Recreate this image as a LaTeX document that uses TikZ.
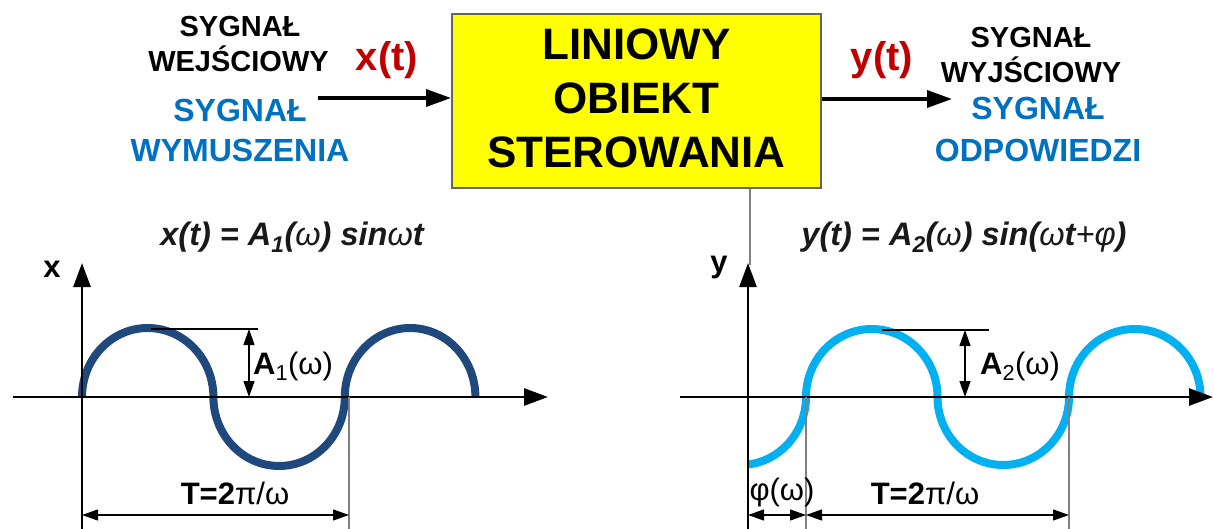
\documentclass[tikz,border=0pt]{standalone}
\usepackage{fontspec}
\setmainfont{Liberation Sans}
\usetikzlibrary{arrows.meta}
\definecolor{sigred}{RGB}{192,0,0}
\definecolor{sigblue}{RGB}{0,112,192}
\definecolor{wavedark}{RGB}{31,73,125}
\definecolor{wavelight}{RGB}{0,176,240}
\definecolor{boxyellow}{RGB}{255,255,0}
\definecolor{boxborder}{RGB}{100,100,100}
\definecolor{thingray}{RGB}{128,128,128}
\begin{document}
\begin{tikzpicture}[x=1pt,y=-1pt,
  axisline/.style={line width=2.7pt,-{Triangle[length=24pt,width=17pt]}},
  sigarrow/.style={line width=3.5pt,-{Triangle[length=25pt,width=17pt]}},
  dimline/.style={line width=1.2pt,{Triangle[length=16pt,width=11pt]}-{Triangle[length=16pt,width=11pt]}},
  guide/.style={line width=1.3pt,draw=thingray},
  ampline/.style={line width=1.2pt,draw=black},
  wave/.style={line width=8pt},
  lbl/.style={inner sep=0pt,anchor=base},
  blacklbl/.style={lbl,font=\fontsize{29}{35}\selectfont\bfseries,text=black},
  bluelbl/.style={lbl,font=\fontsize{32}{38}\selectfont\bfseries,text=sigblue},
  redlbl/.style={lbl,font=\fontsize{40}{48}\selectfont\bfseries,text=sigred},
  titlelbl/.style={lbl,font=\fontsize{32.5}{38}\selectfont\bfseries\itshape,text=black!90},
  plotlbl/.style={lbl,font=\fontsize{31}{37}\selectfont},
  boxstyle/.style={draw=boxborder,line width=2pt,fill=boxyellow,minimum width=369pt,minimum height=174pt,inner sep=0pt},
]
\useasboundingbox (0,0) rectangle (1214,529);

% block
\node[boxstyle] (box) at (636.5,101) {};
\node[inner sep=0pt,align=center,font=\fontsize{44}{54}\selectfont\bfseries] (boxtext) at (636.5,98.5) {LINIOWY\\OBIEKT\\STEROWANIA};

% input side
\node[blacklbl] (inA) at (240,37) {SYGNAŁ};
\node[blacklbl] (inB) at (238.5,72) {WEJŚCIOWY};
\node[bluelbl] (inC) at (240,122) {SYGNAŁ};
\node[bluelbl] (inD) at (240,162) {WYMUSZENIA};
\node[redlbl] (xt) at (387,71) {x(t)};
\coordinate (inStart) at (318,98);
\draw[sigarrow] (inStart) -- (inStart -| box.west);

% output side
\node[blacklbl] (outA) at (1031,48) {SYGNAŁ};
\node[blacklbl] (outB) at (1031,83) {WYJŚCIOWY};
\node[bluelbl] (outC) at (1038,120) {SYGNAŁ};
\node[bluelbl] (outD) at (1038,162) {ODPOWIEDZI};
\node[redlbl] (yt) at (882,71) {y(t)};
\coordinate (outEnd) at (952,99);
\draw[sigarrow] (outEnd -| box.east) -- (outEnd);

% thin line from block to right plot
\coordinate (gBot) at (750,265);
\draw[guide] (box.south -| gBot) -- (gBot);

% ===== left plot =====
\node[titlelbl] (titleL) at (292,245) {x(t) = A\textsubscript{1}({\mdseries ω}) sin{\mdseries ω}t};
\node[lbl,font=\fontsize{31}{37}\selectfont\bfseries] (xlab) at (52,277) {x};
\coordinate (xaS) at (13,397);
\coordinate (xaE) at (548,397);
\coordinate (yaS) at (82,529);
\coordinate (yaE) at (82,263);
\coordinate (w1) at (82,397);
\draw[wave,draw=wavedark] (w1) arc[start angle=180,end angle=360,x radius=65.7,y radius=69]
  arc[start angle=180,end angle=0,x radius=65.7,y radius=69]
  arc[start angle=180,end angle=360,x radius=65.3,y radius=69];
\draw[axisline] (xaS) -- (xaE);
\draw[axisline] (yaS) -- (yaE);
% amplitude
\coordinate (a1L) at (151,329);
\coordinate (a1R) at (258,329);
\draw[ampline] (a1L) -- (a1R);
\coordinate (a1T) at (249,329);
\coordinate (a1B) at (249,397);
\draw[dimline] (a1T) -- (a1B);
\node[plotlbl,anchor=base west] (A1) at (253,374) {{\bfseries A}\textsubscript{1}(ω)};
% period
\coordinate (vL) at (349,397);
\coordinate (vLb) at (349,529);
\draw[guide] (vL) -- (vLb);
\coordinate (tL1) at (82,515);
\coordinate (tL2) at (349,515);
\draw[dimline] (tL1) -- (tL2);
\node[plotlbl] (TL) at (235,504) {\bfseries T=2{\mdseries π/ω}};

% ===== right plot =====
\node[titlelbl] (titleR) at (964,245) {y(t) = A\textsubscript{2}({\mdseries ω}) sin({\mdseries ω}t{\mdseries +φ})};
\node[lbl,font=\fontsize{31}{37}\selectfont\bfseries] (ylab) at (719,272) {y};
\coordinate (xbS) at (680,397);
\coordinate (xbE) at (1213,397);
\coordinate (ybS) at (748,529);
\coordinate (ybE) at (748,263);
\coordinate (w2) at (674.5,397);
\begin{scope}
\clip (748,250) rectangle (1214,529);
\draw[wave,draw=wavelight] (w2) arc[start angle=180,end angle=0,x radius=65.75,y radius=68]
  arc[start angle=180,end angle=360,x radius=65.75,y radius=68]
  arc[start angle=180,end angle=0,x radius=65.75,y radius=68]
  arc[start angle=180,end angle=360,x radius=65.75,y radius=68];
\end{scope}
\draw[axisline] (xbS) -- (xbE);
\draw[axisline] (ybS) -- (ybE);
% amplitude
\coordinate (a2L) at (882,330);
\coordinate (a2R) at (989,330);
\draw[ampline] (a2L) -- (a2R);
\coordinate (a2T) at (965,330);
\coordinate (a2B) at (965,397);
\draw[dimline] (a2T) -- (a2B);
\node[plotlbl,anchor=base west] (A2) at (980,374) {{\bfseries A}\textsubscript{2}(ω)};
% phase and period
\coordinate (vR1) at (806,397);
\coordinate (vR1b) at (806,529);
\coordinate (vR2) at (1069,397);
\coordinate (vR2b) at (1069,529);
\draw[guide] (vR1) -- (vR1b);
\draw[guide] (vR2) -- (vR2b);
\coordinate (pR1) at (748,515);
\coordinate (pR2) at (806,515);
\coordinate (pR3) at (1069,515);
\draw[dimline] (pR1) -- (pR2);
\draw[dimline] (pR2) -- (pR3);
\node[plotlbl] (phi) at (782,500) {φ(ω)};
\node[plotlbl] (TR) at (925,504) {\bfseries T=2{\mdseries π/ω}};
\end{tikzpicture}
\end{document}
